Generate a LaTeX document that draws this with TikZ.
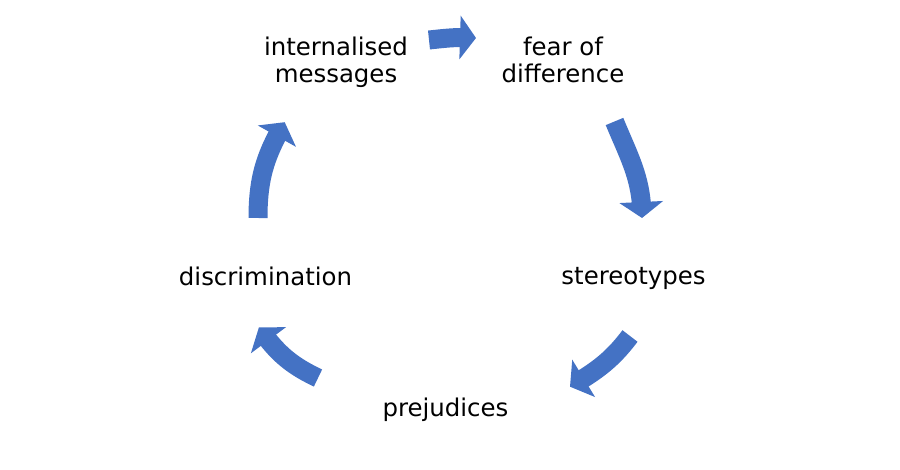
\documentclass[tikz,border=0pt]{standalone}
\usepackage{fontspec}
\setmainfont{DejaVu Sans}
\usetikzlibrary{arrows.meta,bending}
\definecolor{cycleblue}{HTML}{4472C4}
\tikzset{
  cycletext/.style={anchor=base, font=\fontsize{13.9pt}{15.4pt}\selectfont},
  cyclearrow/.style={draw=cycleblue, line width=0.38cm, -{Triangle[length=0.32cm,width=0.86cm]}}
}
\begin{document}
\begin{tikzpicture}[x=0.02cm, y=0.02cm, every text node part/.style={align=center}]
            \useasboundingbox (0,0) rectangle (900,470);

            \node[cycletext] (im) at (336,387) {internalised\\messages};
            \node[cycletext] (fd) at (563,387) {fear of\\difference};
            \node[cycletext] (st) at (633.5,185) {stereotypes};
            \node[cycletext] (pr) at (445.5,53) {prejudices};
            \node[cycletext] (di) at (265.5,184) {discrimination};

            \coordinate (a1s) at (429,430);   \coordinate (a1e) at (476,432);
            \coordinate (a2s) at (614.5,348.5); \coordinate (a2e) at (642,252);
            \coordinate (a3s) at (630,134);   \coordinate (a3e) at (570,83.3);
            \coordinate (a4s) at (318,92);    \coordinate (a4e) at (258.9,142.6);
            \coordinate (a5s) at (258,252);   \coordinate (a5e) at (284.7,347.8);

            \draw[cyclearrow] (a1s) to[out=6, in=176] (a1e);
            \draw[cyclearrow] (a2s) to[out=-67.6, in=90] (a2e);
            \draw[cyclearrow] (a3s) to[out=233, in=30.7] (a3e);
            \draw[cyclearrow] (a4s) to[out=154.8, in=304.8] (a4e);
            \draw[cyclearrow] (a5s) to[out=90, in=239.3] (a5e);

        \end{tikzpicture}
\end{document}
